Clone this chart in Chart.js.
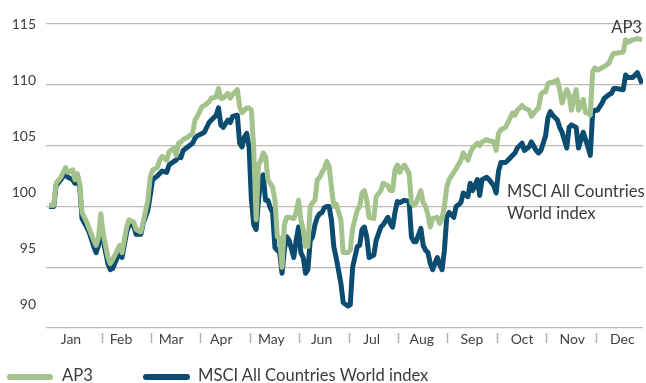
<!DOCTYPE html>
<html>
<head>
<meta charset="utf-8">
<script src="https://cdn.jsdelivr.net/npm/chart.js@4.4.1/dist/chart.umd.min.js"></script>
<style>
html,body{margin:0;padding:0;background:#fff;}
#wrap{position:relative;width:646px;height:383px;overflow:hidden;}
#c{position:absolute;left:0;top:0;}
.txt{position:absolute;font-family:Lato,sans-serif;font-size:16.6px;line-height:22px;color:#3b3b3b;white-space:nowrap;}
.sw{position:absolute;height:6px;border-radius:3px;top:374px;}
</style>
</head>
<body>
<div id="wrap">
  <canvas id="c" width="646" height="383"></canvas>
  <div class="txt" style="right:4px;top:16px;">AP3</div>
  <div class="txt" style="left:507px;top:180px;">MSCI All Countries<br>World index</div>
  <div class="sw" style="left:7px;width:46px;background:#a3c28c;"></div>
  <div class="txt" style="left:62px;top:364px;">AP3</div>
  <div class="sw" style="left:143px;width:47px;background:#0b4c70;"></div>
  <div class="txt" style="left:198px;top:364px;">MSCI All Countries World index</div>
</div>
<script>
const months = ['Jan','Feb','Mar','Apr','May','Jun','Jul','Aug','Sep','Oct','Nov','Dec'];
const yTicks = [90,95,100,105,110,115];
// trading day index within the year
const days = [0,2,3,5,7,8,10,11,12,13,
14,16,17,19,20,21,22,23,25,26,
27,29,30,31,33,34,36,37,39,40,
42,43,44,46,47,48,50,51,53,54,
55,56,57,59,61,62,63,65,66,68,
69,71,72,73,74,76,77,78,80,81,
82,83,84,85,86,87,88,89,90,91,
92,93,94,95,96,97,98,99,100,101,
102,104,105,106,107,108,109,110,111,112,
113,114,115,116,117,118,119,120,121,122,
124,125,127,128,129,131,132,133,134,135,
136,138,139,141,142,144,145,146,147,148,
149,150,151,153,154,155,156,158,159,160,
161,162,163,165,166,167,168,169,170,172,
173,175,176,178,179,180,182,183,184,186,
187,189,190,191,192,194,195,197,198,199,
201,202,204,205,207,208,209,210,211,212,
213,214,216,217,218,220,221,222,223,224,
225,227,228,229,230,231,232,233,235,236,
238,239,240,241,244,245,246,248,250,252];
const ap3 = [100.1,100.1,101.9,102.4,103.2,102.8,103.0,102.2,102.7,101.9,
99.5,98.7,98.2,97.2,96.8,97.4,99.4,97.8,95.8,95.3,
95.6,96.4,96.8,96.2,98.3,98.9,98.7,98.1,97.9,98.7,
100.5,102.4,103.0,103.2,103.8,104.1,103.8,104.5,104.8,104.2,
105.2,105.3,105.5,105.7,106.0,107.1,107.4,108.2,108.3,108.6,
108.9,109.0,109.7,108.9,108.9,109.3,108.9,109.2,109.6,108.2,
107.7,107.9,108.1,108.1,107.9,104.6,98.9,103.4,103.8,104.4,
104.1,102.2,101.9,101.6,100.5,97.5,97.4,95.0,98.5,99.1,
99.1,99.0,99.5,100.5,98.9,98.1,96.7,96.7,100.0,100.3,
100.5,102.2,102.4,102.8,103.1,103.7,103.3,101.6,100.0,100.2,
98.9,96.2,96.2,96.4,98.2,99.7,100.0,101.1,101.3,100.5,
99.1,99.0,100.8,101.3,101.9,101.7,101.3,101.3,103.0,103.4,
102.8,103.2,103.4,102.7,100.3,100.1,100.3,101.3,100.3,100.0,
99.3,98.3,99.0,99.1,98.6,99.0,100.0,101.6,102.2,102.8,
103.1,103.8,104.4,103.8,104.4,104.8,105.2,105.0,105.3,105.5,
105.4,105.3,104.6,106.0,106.3,106.5,106.9,107.7,107.5,107.9,
108.3,108.1,107.9,107.4,107.9,108.1,109.2,109.4,109.4,110.1,
110.2,110.2,110.4,109.6,108.5,109.6,109.2,107.9,108.9,109.6,
107.9,108.8,107.7,107.7,107.5,111.1,111.4,111.2,111.4,111.5,
111.8,112.3,112.6,112.6,112.7,113.7,113.5,113.7,113.8,113.7];
const msci = [100.0,100.0,101.7,102.2,102.7,102.4,102.2,101.9,101.9,101.7,
99.0,98.3,97.9,96.7,96.2,96.8,98.7,97.2,95.3,94.8,
94.9,95.8,96.4,95.8,97.9,98.5,98.4,97.7,97.7,98.6,
99.7,100.9,102.2,102.5,102.7,102.9,102.8,103.4,103.7,103.8,
104.1,104.0,104.6,104.9,105.2,105.6,105.8,106.0,106.1,106.9,
107.1,107.5,108.1,106.7,106.5,107.1,106.9,107.4,107.5,105.2,
104.9,105.7,106.0,104.9,100.5,98.5,98.1,100.5,102.2,102.6,
100.5,100.5,99.9,99.5,96.6,96.4,96.2,94.5,96.4,97.5,
97.2,95.8,97.2,98.3,96.2,95.8,94.5,94.8,97.2,97.5,
98.5,99.1,99.4,99.5,99.9,100.0,100.0,98.9,96.7,95.8,
93.7,92.1,91.8,91.9,95.0,96.7,96.8,98.1,98.3,97.5,
95.8,96.0,97.2,98.3,98.5,99.1,98.6,98.3,99.5,100.4,
100.3,100.4,100.5,100.4,97.5,97.1,97.1,98.2,96.8,96.4,
96.2,95.3,94.8,95.8,95.2,94.8,96.4,99.1,99.5,99.1,
100.0,100.3,101.1,100.8,101.9,101.3,102.2,100.9,102.2,102.4,
102.2,101.7,101.1,102.9,103.6,103.6,103.8,104.2,104.4,104.8,
105.2,104.6,104.9,105.3,104.6,104.4,104.6,105.2,105.8,107.3,
107.8,107.5,107.1,106.5,106.1,104.8,106.5,106.7,106.6,106.5,
104.8,106.1,105.5,104.9,104.2,107.7,107.9,107.9,108.5,108.9,
109.2,109.3,109.7,109.7,109.6,110.8,110.6,110.6,111.0,110.1];

const GREEN = '#a3c28c', BLUE = '#0b4c70', GRID = '#c2bab0', TICK = '#b4b4b4', TEXT = '#404040';
Chart.defaults.font.family = 'Lato, sans-serif';

new Chart(document.getElementById('c'), {
  type: 'line',
  data: {
    datasets: [
      { label: 'AP3', data: days.map((d, i) => ({ x: d, y: ap3[i] })),
        borderColor: GREEN, backgroundColor: GREEN, borderWidth: 5, pointRadius: 0,
        tension: 0, borderJoinStyle: 'round', fill: false },
      { label: 'MSCI All Countries World index', data: days.map((d, i) => ({ x: d, y: msci[i] })),
        borderColor: BLUE, backgroundColor: BLUE, borderWidth: 5, pointRadius: 0,
        tension: 0, borderJoinStyle: 'round', fill: false }
    ]
  },
  options: {
    responsive: false, animation: false, devicePixelRatio: 1,
    layout: { padding: { left: 0, right: 3, top: 24, bottom: 0 } },
    plugins: { legend: { display: false }, tooltip: { enabled: false } },
    scales: {
      xt: {
        axis: 'x', type: 'linear', position: 'bottom', weight: 0, min: -1.3, max: 252.4,
        afterBuildTicks: s => { s.ticks = months.slice(1).map((m, i) => ({ value: 22.5 + 21 * i })); },
        ticks: { display: false },
        grid: { drawOnChartArea: false, drawTicks: true, tickLength: 15, tickWidth: 1.5,
                tickColor: TICK, tickBorderDash: [0, 5, 10, 50] },
        border: { display: false },
        afterFit: s => { s.height = 0; }
      },
      x: {
        type: 'linear', position: 'bottom', weight: 1, min: -1.3, max: 252.4,
        afterBuildTicks: s => { s.ticks = months.map((m, i) => ({ value: 9.3 + 21.3 * i })); },
        ticks: { callback: (v, i) => months[i], autoSkip: false, maxRotation: 0, padding: 3,
                 font: { size: 14 }, color: TEXT },
        grid: { display: false, drawTicks: false },
        border: { display: false },
        afterFit: s => { s.height = 55; }
      },
      y: {
        type: 'linear', position: 'left', min: 90, max: 115,
        ticks: { display: false, stepSize: 5 },
        grid: { color: GRID, lineWidth: 1.2, drawTicks: false },
        border: { display: false },
        afterFit: s => { s.width = 0; }
      },
      yl: {
        type: 'linear', position: 'left', min: 87.95, max: 115,
        afterBuildTicks: s => { s.ticks = yTicks.map(v => ({ value: v })); },
        ticks: { padding: 10, font: { size: 14 }, color: TEXT },
        grid: { display: false, drawTicks: false },
        border: { display: false },
        afterFit: s => { s.width = 46; }
      }
    }
  }
});
</script>
</body>
</html>
